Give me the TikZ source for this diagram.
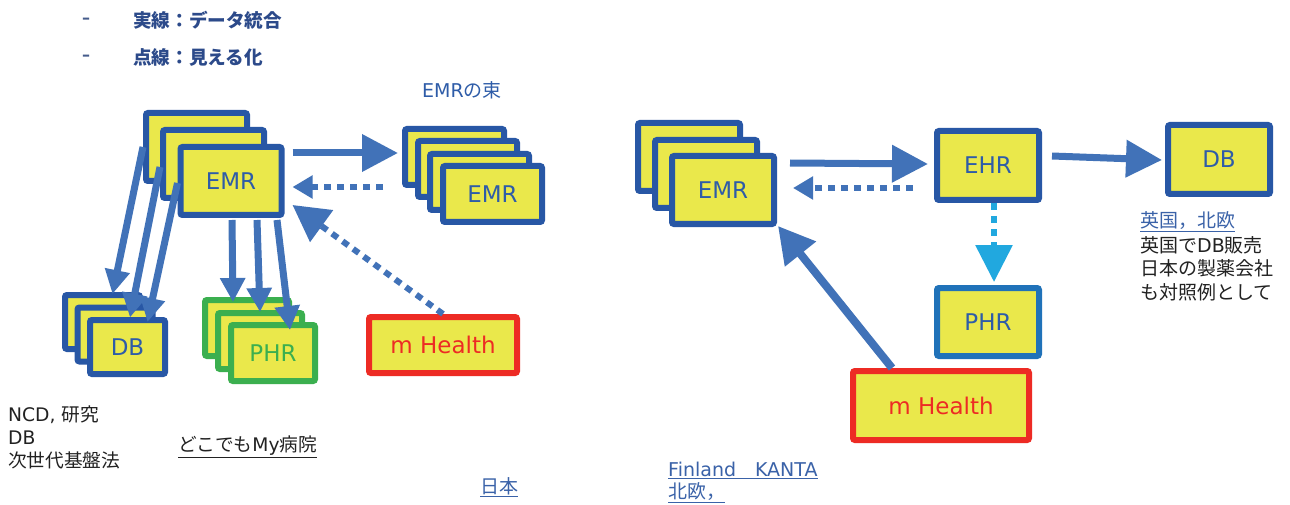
\documentclass[tikz,border=0pt]{standalone}
\usepackage{fontspec}
\setmainfont{Noto Sans CJK JP}
\newfontfamily\lat{DejaVu Sans}
\usetikzlibrary{arrows.meta,calc}

\definecolor{boxfill}{RGB}{234,232,75}
\definecolor{boxblue}{RGB}{40,87,165}
\definecolor{labelblue}{RGB}{46,92,168}
\definecolor{arrowblue}{RGB}{65,114,184}
\definecolor{phrgreen}{RGB}{59,175,79}
\definecolor{mhred}{RGB}{237,43,36}
\definecolor{phrblue}{RGB}{32,114,185}
\definecolor{viewcyan}{RGB}{33,168,223}
\definecolor{hdrblue}{RGB}{44,74,138}
\definecolor{dashblue}{RGB}{70,92,140}
\definecolor{notegray}{RGB}{34,34,34}
\definecolor{linkblue}{RGB}{58,98,168}

\begin{document}
\begin{tikzpicture}[x=1pt,y=-1pt,
  card/.style={draw=boxblue, fill=boxfill, line width=6pt, rounded corners=2pt,
    inner sep=0pt, text=labelblue, font=\lat\fontsize{23}{26}\selectfont},
  emrcard/.style={card, minimum width=101pt, minimum height=68pt},
  dbcard/.style={card, minimum width=75pt, minimum height=54pt},
  phrcard/.style={card, draw=phrgreen, text=phrgreen, minimum width=84pt, minimum height=56pt},
  bundlecard/.style={card, minimum width=99pt, minimum height=56pt},
  bigcard/.style={card, minimum width=102pt, minimum height=69pt},
  mhcard/.style={card, draw=mhred, text=mhred},
  flow/.style={draw=arrowblue, line width=7pt},
  dotflow/.style={draw=arrowblue, line width=6pt, dash pattern=on 7pt off 6pt},
  bighead/.style={-{Triangle[length=36pt,width=36pt]}},
  smallhead/.style={-{Triangle[length=20pt,width=22pt]}},
  downhead/.style={-{Triangle[length=24pt,width=24pt]}},
  hdr/.style={inner sep=0pt, text=hdrblue, font=\bfseries\fontsize{18.6}{20}\selectfont},
  dashmark/.style={inner sep=0pt, text=dashblue, font=\lat\bfseries\fontsize{16}{18}\selectfont},
  note/.style={inner sep=0pt, text=notegray, font=\fontsize{18.7}{22}\selectfont},
  link/.style={inner sep=0pt, text=linkblue, font=\fontsize{19}{23}\selectfont}
]
\useasboundingbox[fill=white] (0,0) rectangle (1290,505);

% legend
\node[dashmark, anchor=west] (d1dash) at (82,21) {–};
\node[hdr, anchor=west] (leg1) at (133,20.5) {実線：データ統合};
\node[dashmark, anchor=west] (d2dash) at (82,58) {–};
\node[hdr, anchor=west] (leg2) at (133,57) {点線：見える化};

% ---------------- Japan ----------------
\node[emrcard] (e1) at (196.5,147) {};
\node[emrcard] (e2) at (213.5,164) {};
\node[emrcard] (e3) at (231,181) {EMR};

\node[dbcard] (d1) at (102.5,322) {};
\node[dbcard] (d2) at (115,334.5) {};
\node[dbcard] (d3) at (127.5,347) {DB};

\node[phrcard] (p1) at (247,328) {};
\node[phrcard] (p2) at (260,341) {};
\node[phrcard] (p3) at (273,353) {PHR};

\node[bundlecard] (b1) at (454.5,157) {};
\node[bundlecard] (b2) at (467.5,169) {};
\node[bundlecard] (b3) at (479.5,182) {};
\node[bundlecard] (b4) at (492.5,194) {EMR};
\node[text=labelblue, font=\fontsize{19}{22}\selectfont, inner sep=0pt] (bundlelbl) at (462,90) {{\lat EMR}の束};

\node[mhcard, minimum width=148pt, minimum height=56pt] (mhl) at (443,345) {m Health};

% connectors, Japan
\draw[flow, bighead] ($(e3.east)+(8,-28)$) -- ($(b1.west)+(-4,-4)$);
\draw[dotflow, smallhead] ($(b3.west)+(-44,5)$) -- ($(e3.east)+(8,6)$);
\draw[dotflow, -{Triangle[length=36pt,width=38pt]}] (mhl.north) -- ($(e3.east)+(8,24)$);

\draw[flow, downhead] (e1.west) -- ($(d1.north)+(10,2)$);
\draw[flow, downhead] ($(e2.west)+(0,3)$) -- ($(d2.north)+(15,13)$);
\draw[flow, downhead] ($(e3.west)+(0,2)$) -- ($(d3.north)+(20,5)$);

\draw[flow, downhead] ($(e3.south)+(1,2)$) -- ($(p1.north)+(-14,5)$);
\draw[flow, downhead] ($(e3.south)+(26,2)$) -- ($(p2.north)+(0,2)$);
\draw[flow, downhead] ($(e3.south)+(46,2)$) -- ($(p3.north)+(17,8)$);

% notes, Japan
\node[note, anchor=west] (n1) at (8,415) {{\lat NCD, }研究};
\node[note, anchor=west] (n2) at (8,438) {{\lat DB}};
\node[note, anchor=west] (n3) at (8,460) {次世代基盤法};
\node[note, anchor=west] (anywhere) at (178,447) {\underline{どこでも{\lat My}病院}};
\node[link, anchor=west] (japan) at (480,487) {\underline{日本}};

% ---------------- Finland / UK ----------------
\node[emrcard, minimum width=102pt] (r1) at (689,157) {};
\node[emrcard, minimum width=102pt] (r2) at (706,174) {};
\node[emrcard, minimum width=102pt] (r3) at (723,190) {EMR};

\node[bigcard] (ehr) at (988,165.5) {EHR};
\node[bigcard, draw=phrblue, minimum height=68pt] (phr) at (988,322) {PHR};
\node[mhcard, minimum width=176pt, minimum height=69pt] (mhr) at (941,405.5) {m Health};
\node[bigcard] (dbr) at (1219,159.5) {DB};

\draw[flow, bighead] ($(r3.east)+(13,-27)$) -- ($(ehr.west)+(-6,-1.5)$);
\draw[dotflow, smallhead] ($(ehr.west)+(-21,22.5)$) -- ($(r3.east)+(16,-2)$);
\draw[dotflow, draw=viewcyan, -{Triangle[length=37pt,width=36pt]}] ($(ehr.south)+(6,0)$) -- ($(phr.north)+(6,-3)$);
\draw[flow, line width=8pt, -{Triangle[length=36pt,width=38pt]}] ($(mhr.north)+(-49,0)$) -- ($(r3.south east)+(1,-1)$);
\draw[flow, bighead] ($(ehr.east)+(10,-9.5)$) -- ($(dbr.west)+(-3,0.5)$);

% notes, Finland / UK
\node[link, anchor=west] (uk) at (1140,222) {\underline{英国，北欧}};
\node[note, anchor=west, font=\fontsize{19}{23}\selectfont] (uk1) at (1140,245) {英国で{\lat DB}販売};
\node[note, anchor=west, font=\fontsize{19}{23}\selectfont] (uk2) at (1140,268) {日本の製薬会社};
\node[note, anchor=west, font=\fontsize{19}{23}\selectfont] (uk3) at (1140,292) {も対照例として};
\node[link, anchor=west] (fin1) at (668,470) {\underline{{\lat Finland}　{\lat KANTA}}};
\node[link, anchor=west] (fin2) at (668,493) {\underline{北欧，}};
\end{tikzpicture}
\end{document}
